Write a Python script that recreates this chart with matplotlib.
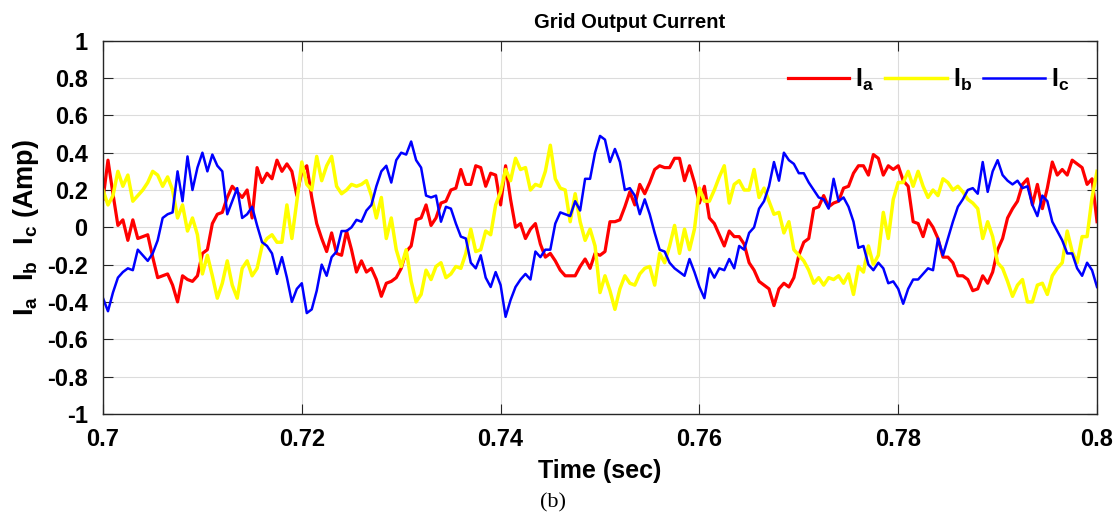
import numpy as np
import matplotlib
matplotlib.use("Agg")
import matplotlib.pyplot as plt

T_START, T_END, N_SAMPLES = 0.7, 0.8, 201
time_s = np.linspace(T_START, T_END, N_SAMPLES)

ia = [
    0.15, 0.36, 0.18, 0.01, 0.04, -0.07, 0.04, -0.06, -0.05, -0.04, -0.16, -0.27, -0.26, -0.25, -0.31, -0.40, -0.26, -0.28, -0.29, -0.26, -0.14, -0.12, 0.02, 0.07, 0.08,
    0.16, 0.22, 0.19, 0.16, 0.20, 0.05, 0.32, 0.24, 0.29, 0.26, 0.36, 0.30, 0.34, 0.30, 0.17, 0.30, 0.33, 0.16, 0.02, -0.06, -0.13, -0.03, -0.14, -0.15,
    -0.02, -0.12, -0.24, -0.18, -0.24, -0.22, -0.28, -0.37, -0.30, -0.29, -0.27, -0.22, -0.13, -0.10, 0.04, 0.05, 0.12, 0.01, 0.05, 0.13, 0.14, 0.20, 0.21, 0.31, 0.23, 0.23,
    0.33, 0.32, 0.22, 0.29, 0.28, 0.12, 0.33, 0.15, 0.00, 0.02, -0.06, -0.01, 0.02, -0.09, -0.16, -0.14, -0.18, -0.23, -0.26, -0.26, -0.26, -0.21, -0.17, -0.22, -0.14,
    -0.15, -0.13, 0.03, 0.03, 0.04, 0.11, 0.19, 0.12, 0.23, 0.18, 0.24, 0.31, 0.33, 0.32, 0.32, 0.37, 0.37, 0.25, 0.33, 0.24, 0.13, 0.22, 0.05, 0.02, -0.04,
    -0.10, -0.02, -0.05, -0.05, -0.09, -0.19, -0.23, -0.29, -0.31, -0.33, -0.42, -0.33, -0.30, -0.32, -0.27, -0.15, -0.08, -0.06, 0.10, 0.11, 0.17, 0.11, 0.13, 0.14, 0.21,
    0.22, 0.29, 0.33, 0.33, 0.28, 0.39, 0.37, 0.28, 0.33, 0.31, 0.33, 0.25, 0.22, 0.03, 0.02, -0.05, 0.04, 0.00, -0.06, -0.16, -0.16, -0.19, -0.26, -0.26, -0.28,
    -0.34, -0.33, -0.26, -0.30, -0.24, -0.12, -0.06, 0.05, 0.10, 0.14, 0.23, 0.26, 0.12, 0.23, 0.10, 0.21, 0.35, 0.28, 0.31, 0.28, 0.36, 0.34, 0.32, 0.23, 0.26, 0.03,
]

ib = [
    0.20, 0.12, 0.17, 0.30, 0.22, 0.28, 0.14, 0.17, 0.20, 0.24, 0.30, 0.28, 0.22, 0.27, 0.20, 0.05, 0.12, -0.02, 0.05, -0.04, -0.25, -0.15, -0.26, -0.38, -0.30,
    -0.18, -0.31, -0.38, -0.22, -0.18, -0.26, -0.22, -0.10, -0.06, -0.04, -0.08, -0.08, 0.12, -0.06, 0.14, 0.35, 0.23, 0.20, 0.38, 0.25, 0.33, 0.38, 0.22, 0.18,
    0.20, 0.23, 0.22, 0.23, 0.25, 0.17, 0.05, 0.16, -0.06, 0.05, -0.12, -0.21, -0.12, -0.29, -0.40, -0.36, -0.23, -0.28, -0.21, -0.19, -0.27, -0.25, -0.21, -0.22, -0.14, -0.01,
    -0.13, -0.12, -0.02, -0.04, 0.12, 0.19, 0.31, 0.25, 0.37, 0.31, 0.32, 0.20, 0.23, 0.22, 0.30, 0.44, 0.26, 0.21, 0.20, 0.03, 0.18, 0.03, -0.07, -0.01, -0.10,
    -0.35, -0.26, -0.34, -0.44, -0.33, -0.26, -0.30, -0.31, -0.25, -0.22, -0.21, -0.31, -0.14, -0.19, -0.10, 0.01, -0.14, -0.01, -0.12, -0.01, 0.21, 0.14, 0.14, 0.20, 0.27,
    0.33, 0.13, 0.23, 0.25, 0.20, 0.20, 0.31, 0.16, 0.21, 0.14, 0.07, 0.08, -0.03, 0.03, -0.12, -0.15, -0.18, -0.23, -0.30, -0.27, -0.31, -0.27, -0.28, -0.26, -0.30,
    -0.25, -0.36, -0.21, -0.24, -0.10, -0.20, -0.15, 0.08, -0.06, 0.15, 0.24, 0.24, 0.30, 0.22, 0.30, 0.22, 0.16, 0.20, 0.17, 0.26, 0.24, 0.20, 0.22, 0.19, 0.15,
    0.13, 0.10, -0.06, 0.03, -0.05, -0.19, -0.22, -0.29, -0.37, -0.31, -0.28, -0.40, -0.40, -0.31, -0.30, -0.36, -0.26, -0.22, -0.19, -0.02, -0.13, -0.19, -0.05, -0.05, 0.16, 0.30,
]

ic = [
    -0.38, -0.45, -0.35, -0.27, -0.24, -0.22, -0.23, -0.12, -0.15, -0.18, -0.14, -0.07, 0.05, 0.07, 0.08, 0.30, 0.14, 0.38, 0.20, 0.32, 0.40, 0.30, 0.39, 0.33, 0.30,
    0.07, 0.14, 0.21, 0.05, 0.07, 0.11, 0.01, -0.08, -0.10, -0.14, -0.25, -0.16, -0.27, -0.40, -0.33, -0.30, -0.46, -0.44, -0.34, -0.20, -0.26, -0.16, -0.13, -0.02,
    -0.02, 0.00, 0.04, 0.03, 0.09, 0.12, 0.22, 0.30, 0.33, 0.24, 0.36, 0.40, 0.39, 0.46, 0.36, 0.32, 0.17, 0.16, 0.17, 0.03, 0.11, 0.10, 0.02, -0.05, -0.06, -0.19,
    -0.22, -0.15, -0.27, -0.32, -0.24, -0.31, -0.48, -0.39, -0.32, -0.28, -0.25, -0.28, -0.13, -0.16, -0.12, -0.12, 0.02, 0.08, 0.07, 0.06, 0.14, 0.09, 0.26, 0.26, 0.40,
    0.49, 0.47, 0.35, 0.42, 0.35, 0.20, 0.21, 0.17, 0.07, 0.15, 0.07, -0.03, -0.12, -0.13, -0.19, -0.22, -0.24, -0.26, -0.17, -0.24, -0.32, -0.38, -0.22, -0.27, -0.22,
    -0.23, -0.17, -0.22, -0.10, -0.12, -0.03, 0.00, 0.10, 0.14, 0.22, 0.35, 0.25, 0.40, 0.36, 0.34, 0.29, 0.29, 0.24, 0.20, 0.16, 0.15, 0.10, 0.26, 0.14, 0.16,
    0.11, 0.03, -0.11, -0.10, -0.20, -0.23, -0.19, -0.22, -0.30, -0.29, -0.33, -0.41, -0.33, -0.28, -0.28, -0.25, -0.22, -0.23, -0.06, -0.15, -0.06, 0.03, 0.11, 0.15, 0.20,
    0.21, 0.18, 0.35, 0.19, 0.30, 0.36, 0.28, 0.25, 0.23, 0.25, 0.21, 0.22, 0.12, 0.06, 0.17, 0.14, 0.03, -0.02, -0.07, -0.14, -0.14, -0.22, -0.26, -0.19, -0.23, -0.32,
]

x_ticks = [0.7, 0.72, 0.74, 0.76, 0.78, 0.8]
x_tick_labels = ["0.7", "0.72", "0.74", "0.76", "0.78", "0.8"]
y_ticks = [-1, -0.8, -0.6, -0.4, -0.2, 0, 0.2, 0.4, 0.6, 0.8, 1]
y_tick_labels = ["-1", "-0.8", "-0.6", "-0.4", "-0.2", "0", "0.2", "0.4", "0.6", "0.8", "1"]
series_labels = [r"$\mathbf{I_a}$", r"$\mathbf{I_b}$", r"$\mathbf{I_c}$"]

SANS = ["Liberation Sans", "DejaVu Sans"]
plt.rcParams["font.family"] = SANS
plt.rcParams["font.weight"] = "bold"
plt.rcParams["mathtext.fontset"] = "custom"
plt.rcParams["mathtext.bf"] = "Liberation Sans:bold"
plt.rcParams["mathtext.rm"] = "Liberation Sans:bold"
plt.rcParams["mathtext.it"] = "Liberation Sans:bold"

fig = plt.figure(figsize=(11.16, 5.17), dpi=100)
ax = fig.add_axes([0.0923, 0.1996, 0.8907, 0.7215])

ax.plot(time_s, ia, color="#ff0000", lw=2.3, label=series_labels[0])
ax.plot(time_s, ib, color="#ffff00", lw=2.5, label=series_labels[1])
ax.plot(time_s, ic, color="#0000ff", lw=1.8, label=series_labels[2])

ax.set_xlim(T_START, T_END)
ax.set_ylim(-1, 1)
ax.set_xticks(x_ticks)
ax.set_xticklabels(x_tick_labels)
ax.set_yticks(y_ticks)
ax.set_yticklabels(y_tick_labels)
ax.tick_params(axis="both", direction="in", length=7, width=0.8, top=True, right=True,
               labelsize=17, colors="#262626")
ax.tick_params(axis="y", pad=11)
ax.tick_params(axis="x", pad=10)
for lab in ax.get_xticklabels() + ax.get_yticklabels():
    lab.set_fontweight("bold")
    lab.set_color("black")
ax.grid(True, color="#dcdcdc", lw=0.8)
ax.set_axisbelow(True)
for sp in ax.spines.values():
    sp.set_color("#262626")
    sp.set_linewidth(1.0)

ax.set_title("Grid Output Current", fontsize=14.5, fontweight="bold", pad=9,
             x=(630 - 103) / 994)
ax.set_xlabel("Time (sec)", fontsize=18, fontweight="bold", labelpad=6)
ax.set_ylabel(r"$\mathbf{I_a\ \ I_b\ \ I_c}$ (Amp)", fontsize=19.5, fontweight="bold", labelpad=4)

leg = ax.legend(loc="upper right", bbox_to_anchor=(0.982, 0.958), ncol=3, frameon=False,
                fontsize=18, handlelength=2.45, handletextpad=0.25, columnspacing=0.45,
                borderaxespad=0.0)

fig.text(553 / 1116, 1 - 503 / 517, "(b)", family=["Liberation Serif", "DejaVu Serif"],
         fontweight="normal", fontsize=16, ha="center", va="center")

fig.savefig("out.png", dpi=100)
